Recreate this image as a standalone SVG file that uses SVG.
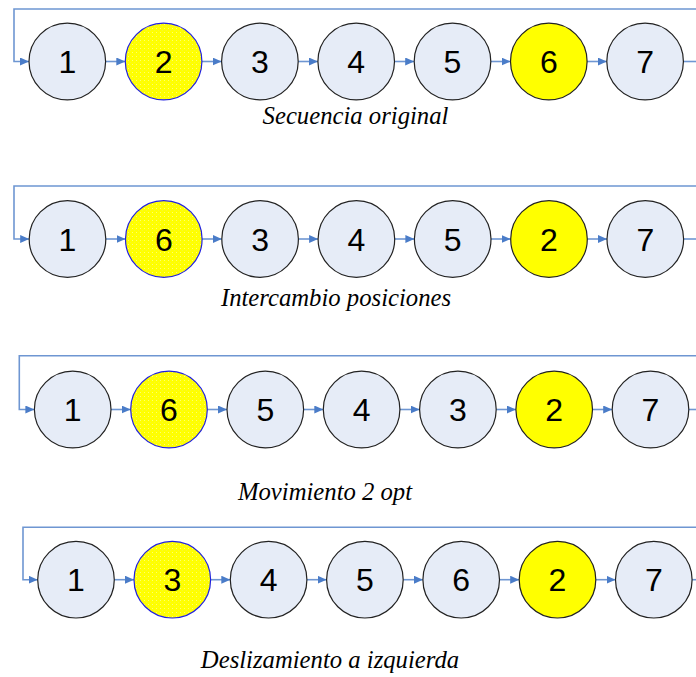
<svg xmlns="http://www.w3.org/2000/svg" width="696" height="677" viewBox="0 0 696 677">
<defs>
<style>
.n{fill:#E6ECF7;stroke:#222;stroke-width:1.2}
.y{fill:#FFFF00;stroke:#222;stroke-width:1.2}
.p{fill:url(#dots);stroke:#2020E0;stroke-width:1.2}
.t{font-family:"Liberation Sans",Arial,sans-serif;font-size:32px;text-anchor:middle;fill:#000}
.c{fill:none;stroke:#6E96D2;stroke-width:1.6}
.l{font-family:"Liberation Serif","Times New Roman",serif;font-style:italic;font-size:24.7px;text-anchor:middle;fill:#000}
</style>
<pattern id="dots" width="4" height="4" patternUnits="userSpaceOnUse">
<rect width="4" height="4" fill="#FFFF00"/>
<rect x="0" y="0" width="1" height="1" fill="#FFFF70"/>
<rect x="2" y="2" width="1" height="1" fill="#F6F630"/>
</pattern>
<marker id="a" markerWidth="10" markerHeight="8" refX="9" refY="4" orient="auto" markerUnits="userSpaceOnUse">
<path d="M0,0 L9,4 L0,8 Z" fill="#4A7CC8"/>
</marker>
</defs>
<g id="connectors">
<path class="c" d="M696,9 H14 V61.5 H29" marker-end="url(#a)"/>
<path class="c" d="M105.6,61.5 H125.3" marker-end="url(#a)"/>
<path class="c" d="M201.9,61.5 H221.6" marker-end="url(#a)"/>
<path class="c" d="M298.2,61.5 H317.9" marker-end="url(#a)"/>
<path class="c" d="M394.5,61.5 H414.2" marker-end="url(#a)"/>
<path class="c" d="M490.8,61.5 H510.5" marker-end="url(#a)"/>
<path class="c" d="M587.1,61.5 H606.8" marker-end="url(#a)"/>
<path class="c" d="M683.4,61.5 H696"/>
<path class="c" d="M696,186 H14 V239 H29.2" marker-end="url(#a)"/>
<path class="c" d="M105.8,239 H125.5" marker-end="url(#a)"/>
<path class="c" d="M202.1,239 H221.8" marker-end="url(#a)"/>
<path class="c" d="M298.4,239 H318.1" marker-end="url(#a)"/>
<path class="c" d="M394.7,239 H414.4" marker-end="url(#a)"/>
<path class="c" d="M491,239 H510.7" marker-end="url(#a)"/>
<path class="c" d="M587.3,239 H607" marker-end="url(#a)"/>
<path class="c" d="M683.6,239 H696"/>
<path class="c" d="M696,355.7 H19.3 V409.5 H34.4" marker-end="url(#a)"/>
<path class="c" d="M111,409.5 H130.7" marker-end="url(#a)"/>
<path class="c" d="M207.3,409.5 H227" marker-end="url(#a)"/>
<path class="c" d="M303.6,409.5 H323.3" marker-end="url(#a)"/>
<path class="c" d="M399.9,409.5 H419.6" marker-end="url(#a)"/>
<path class="c" d="M496.2,409.5 H515.9" marker-end="url(#a)"/>
<path class="c" d="M592.5,409.5 H612.2" marker-end="url(#a)"/>
<path class="c" d="M688.8,409.5 H696"/>
<path class="c" d="M696,527.3 H23 V579.7 H37.7" marker-end="url(#a)"/>
<path class="c" d="M114.3,579.7 H134" marker-end="url(#a)"/>
<path class="c" d="M210.6,579.7 H230.3" marker-end="url(#a)"/>
<path class="c" d="M306.9,579.7 H326.6" marker-end="url(#a)"/>
<path class="c" d="M403.2,579.7 H422.9" marker-end="url(#a)"/>
<path class="c" d="M499.5,579.7 H519.2" marker-end="url(#a)"/>
<path class="c" d="M595.8,579.7 H615.5" marker-end="url(#a)"/>
<path class="c" d="M692.1,579.7 H696"/>
</g>
<g id="r1n1"><circle class="n" cx="67.3" cy="61.5" r="38.3"/><text class="t" x="67.3" y="73">1</text></g>
<g id="r1n2"><circle class="p" cx="163.6" cy="61.5" r="38.3"/><text class="t" x="163.6" y="73">2</text></g>
<g id="r1n3"><circle class="n" cx="259.9" cy="61.5" r="38.3"/><text class="t" x="259.9" y="73">3</text></g>
<g id="r1n4"><circle class="n" cx="356.2" cy="61.5" r="38.3"/><text class="t" x="356.2" y="73">4</text></g>
<g id="r1n5"><circle class="n" cx="452.5" cy="61.5" r="38.3"/><text class="t" x="452.5" y="73">5</text></g>
<g id="r1n6"><circle class="y" cx="548.8" cy="61.5" r="38.3"/><text class="t" x="548.8" y="73">6</text></g>
<g id="r1n7"><circle class="n" cx="645.1" cy="61.5" r="38.3"/><text class="t" x="645.1" y="73">7</text></g>
<text class="l" x="355.5" y="124">Secuencia original</text>
<g id="r2n1"><circle class="n" cx="67.5" cy="239" r="38.3"/><text class="t" x="67.5" y="250.5">1</text></g>
<g id="r2n2"><circle class="p" cx="163.8" cy="239" r="38.3"/><text class="t" x="163.8" y="250.5">6</text></g>
<g id="r2n3"><circle class="n" cx="260.1" cy="239" r="38.3"/><text class="t" x="260.1" y="250.5">3</text></g>
<g id="r2n4"><circle class="n" cx="356.4" cy="239" r="38.3"/><text class="t" x="356.4" y="250.5">4</text></g>
<g id="r2n5"><circle class="n" cx="452.7" cy="239" r="38.3"/><text class="t" x="452.7" y="250.5">5</text></g>
<g id="r2n6"><circle class="y" cx="549" cy="239" r="38.3"/><text class="t" x="549" y="250.5">2</text></g>
<g id="r2n7"><circle class="n" cx="645.3" cy="239" r="38.3"/><text class="t" x="645.3" y="250.5">7</text></g>
<text class="l" x="336" y="306">Intercambio posiciones</text>
<g id="r3n1"><circle class="n" cx="72.7" cy="409.5" r="38.3"/><text class="t" x="72.7" y="421">1</text></g>
<g id="r3n2"><circle class="p" cx="169" cy="409.5" r="38.3"/><text class="t" x="169" y="421">6</text></g>
<g id="r3n3"><circle class="n" cx="265.3" cy="409.5" r="38.3"/><text class="t" x="265.3" y="421">5</text></g>
<g id="r3n4"><circle class="n" cx="361.6" cy="409.5" r="38.3"/><text class="t" x="361.6" y="421">4</text></g>
<g id="r3n5"><circle class="n" cx="457.9" cy="409.5" r="38.3"/><text class="t" x="457.9" y="421">3</text></g>
<g id="r3n6"><circle class="y" cx="554.2" cy="409.5" r="38.3"/><text class="t" x="554.2" y="421">2</text></g>
<g id="r3n7"><circle class="n" cx="650.5" cy="409.5" r="38.3"/><text class="t" x="650.5" y="421">7</text></g>
<text class="l" x="325" y="500">Movimiento 2 opt</text>
<g id="r4n1"><circle class="n" cx="76" cy="579.7" r="38.3"/><text class="t" x="76" y="591.2">1</text></g>
<g id="r4n2"><circle class="p" cx="172.3" cy="579.7" r="38.3"/><text class="t" x="172.3" y="591.2">3</text></g>
<g id="r4n3"><circle class="n" cx="268.6" cy="579.7" r="38.3"/><text class="t" x="268.6" y="591.2">4</text></g>
<g id="r4n4"><circle class="n" cx="364.9" cy="579.7" r="38.3"/><text class="t" x="364.9" y="591.2">5</text></g>
<g id="r4n5"><circle class="n" cx="461.2" cy="579.7" r="38.3"/><text class="t" x="461.2" y="591.2">6</text></g>
<g id="r4n6"><circle class="y" cx="557.5" cy="579.7" r="38.3"/><text class="t" x="557.5" y="591.2">2</text></g>
<g id="r4n7"><circle class="n" cx="653.8" cy="579.7" r="38.3"/><text class="t" x="653.8" y="591.2">7</text></g>
<text class="l" x="330" y="668">Deslizamiento a izquierda</text>
</svg>
